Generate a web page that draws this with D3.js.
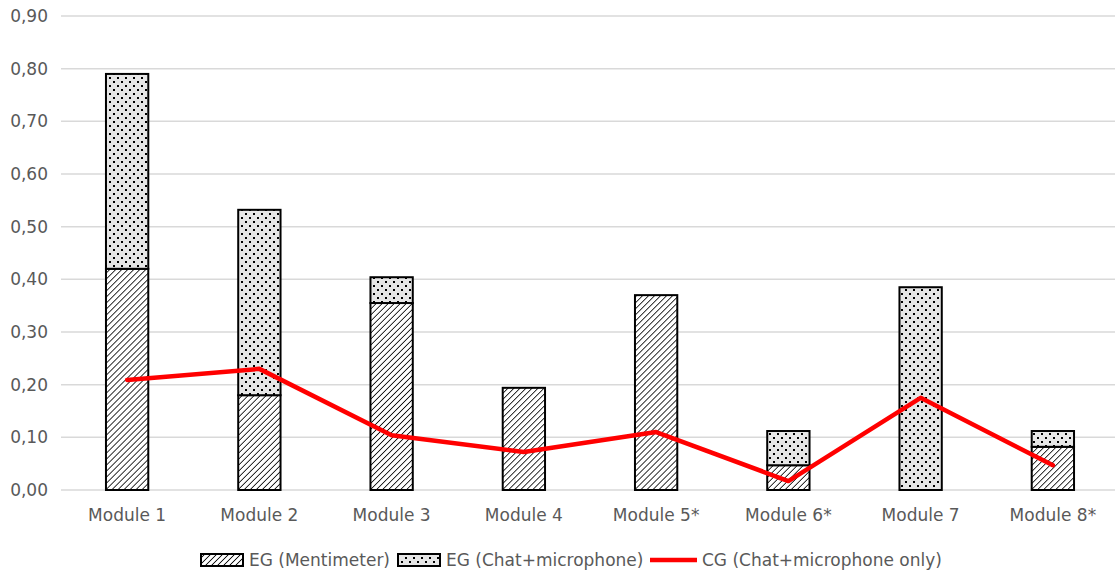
<!DOCTYPE html>
<html>
<head>
<meta charset="utf-8">
<script src="https://cdn.jsdelivr.net/npm/d3@7"></script>
<style>
  html, body { margin: 0; padding: 0; background: #fff; }
  svg { display: block; }
  text { font-family: "DejaVu Sans", sans-serif; fill: #595959; }
</style>
</head>
<body>
<svg id="chart" width="1115" height="574"></svg>
<script>
// Categories and series
const modules = ["Module 1", "Module 2", "Module 3", "Module 4", "Module 5*", "Module 6*", "Module 7", "Module 8*"];
const egMentimeter = [0.42, 0.18, 0.355, 0.194, 0.37, 0.047, 0.0, 0.082];
const egChatMic = [0.37, 0.352, 0.049, 0.0, 0.0, 0.065, 0.385, 0.030];
const cgChatMicOnly = [0.209, 0.23, 0.104, 0.072, 0.11, 0.017, 0.175, 0.047];
const yTicks = [0, 0.1, 0.2, 0.3, 0.4, 0.5, 0.6, 0.7, 0.8, 0.9];
const legendLabels = ["EG (Mentimeter)", "EG (Chat+microphone)", "CG (Chat+microphone only)"];

const svg = d3.select("#chart");
const margin = { left: 61, right: -4, top: 16, bottom: 84 };
const W = 1115, H = 574;
const FONT = "\"DejaVu Sans\", sans-serif";

const x = d3.scaleBand().domain(modules).range([margin.left, W - margin.right]).paddingInner(0.68).paddingOuter(0.34);
const y = d3.scaleLinear().domain([0, 0.9]).range([H - margin.bottom, margin.top]);

// Fill patterns
const defs = svg.append("defs");
const hatch = defs.append("pattern").attr("id", "hatch").attr("patternUnits", "userSpaceOnUse")
  .attr("width", 4.25).attr("height", 4.25).attr("patternTransform", "rotate(45)");
hatch.append("rect").attr("width", 4.25).attr("height", 4.25).attr("fill", "#fff");
hatch.append("line").attr("x1", 0).attr("y1", 0).attr("x2", 0).attr("y2", 4.25)
  .attr("stroke", "#000").attr("stroke-width", 1.6);

const dots = defs.append("pattern").attr("id", "dots").attr("patternUnits", "userSpaceOnUse")
  .attr("width", 8).attr("height", 8);
dots.append("rect").attr("width", 8).attr("height", 8).attr("fill", "#e6e6e6");
[[1, 1], [5, 5]].forEach(([cx, cy]) =>
  dots.append("rect").attr("x", cx).attr("y", cy).attr("width", 2).attr("height", 2).attr("fill", "#000"));

// Grid lines
const fmt = d => d.toFixed(2).replace(".", ",");
svg.append("g").selectAll("line").data(yTicks).join("line")
  .attr("x1", margin.left).attr("x2", W)
  .attr("y1", d => y(d)).attr("y2", d => y(d))
  .attr("stroke", "#d9d9d9").attr("stroke-width", 1.5);

// Y axis labels
const yAxis = d3.axisLeft(y).tickValues(yTicks).tickFormat(fmt).tickSize(0).tickPadding(13);
const yg = svg.append("g").attr("transform", `translate(${margin.left},0)`).call(yAxis);
yg.select(".domain").remove();
yg.selectAll("text").style("font-size", "17px").attr("fill", "#595959").style("font-family", FONT);

// X axis labels
const xAxis = d3.axisBottom(x).tickSize(0).tickPadding(19);
const xg = svg.append("g").attr("transform", `translate(0,${y(0)})`).call(xAxis);
xg.select(".domain").remove();
xg.selectAll("text").style("font-size", "17px").attr("fill", "#595959").style("font-family", FONT);

// Stacked bars
const bars = svg.append("g");
modules.forEach((m, i) => {
  const a = egMentimeter[i], b = egChatMic[i];
  if (a > 0) {
    bars.append("rect").attr("x", x(m)).attr("width", x.bandwidth())
      .attr("y", y(a)).attr("height", y(0) - y(a))
      .attr("fill", "url(#hatch)").attr("stroke", "#000").attr("stroke-width", 2);
  }
  if (b > 0) {
    bars.append("rect").attr("x", x(m)).attr("width", x.bandwidth())
      .attr("y", y(a + b)).attr("height", y(a) - y(a + b))
      .attr("fill", "url(#dots)").attr("stroke", "#000").attr("stroke-width", 2);
  }
});

// Control group line
const line = d3.line().x((d, i) => x(modules[i]) + x.bandwidth() / 2).y(d => y(d));
svg.append("path").datum(cgChatMicOnly).attr("d", line)
  .attr("fill", "none").attr("stroke", "#ff0000").attr("stroke-width", 4.5)
  .attr("stroke-linejoin", "round").attr("stroke-linecap", "round");

// Legend
const lg = svg.append("g").attr("transform", "translate(0,560)");
const legendItems = [
  { label: legendLabels[0], kind: "hatch", x: 200 },
  { label: legendLabels[1], kind: "dots", x: 397 },
  { label: legendLabels[2], kind: "line", x: 650 }
];
legendItems.forEach(it => {
  if (it.kind === "line") {
    lg.append("line").attr("x1", it.x).attr("x2", it.x + 47).attr("y1", 0).attr("y2", 0)
      .attr("stroke", "#ff0000").attr("stroke-width", 4.5);
    lg.append("text").attr("x", it.x + 52).attr("y", 0).attr("dy", "0.35em")
      .style("font-size", "17px").text(it.label);
  } else {
    lg.append("rect").attr("x", it.x + 1).attr("y", -6).attr("width", 42).attr("height", 12)
      .attr("fill", `url(#${it.kind})`).attr("stroke", "#000").attr("stroke-width", 2);
    lg.append("text").attr("x", it.x + 49).attr("y", 0).attr("dy", "0.35em")
      .style("font-size", "17px").text(it.label);
  }
});
</script>
</body>
</html>
